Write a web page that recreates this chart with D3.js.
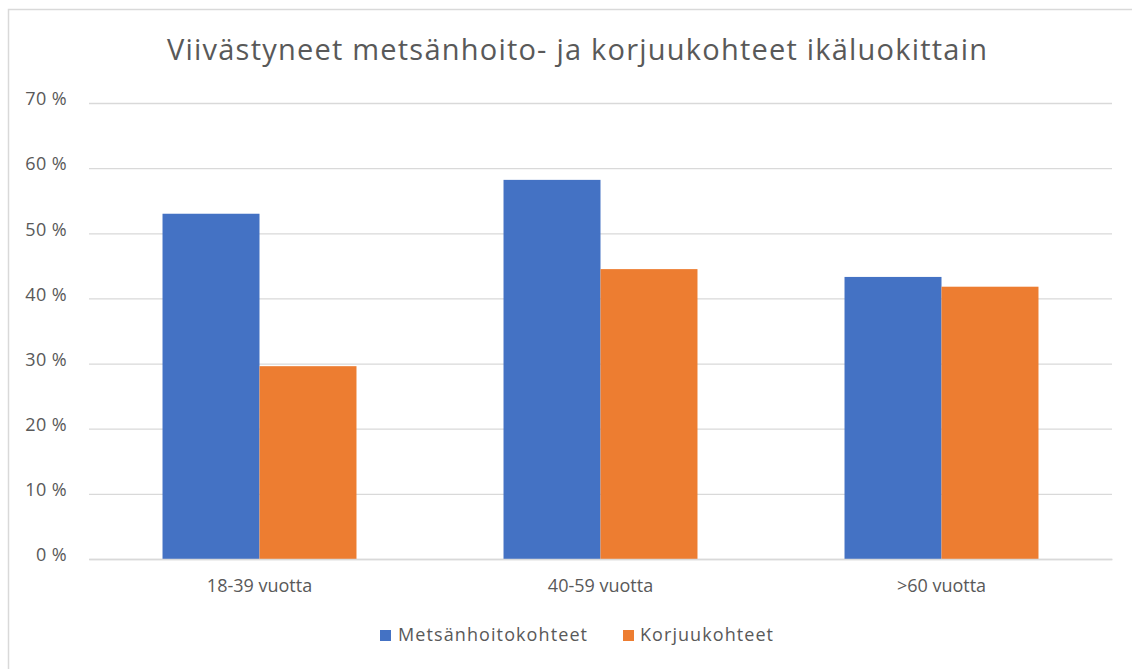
<!DOCTYPE html>
<html><head><meta charset="utf-8">
<script src="https://cdn.jsdelivr.net/npm/d3@7"></script>
<style>body{margin:0;background:#fff;} svg{display:block;} text{font-family:"Open Sans","Noto Sans",sans-serif;fill:#595959;}</style>
</head><body>
<svg id="c" width="1132" height="669"></svg>
<script>
const title = "Viivästyneet metsänhoito- ja korjuukohteet ikäluokittain";
const categories = ["18-39 vuotta", "40-59 vuotta", ">60 vuotta"];
const seriesNames = ["Metsänhoitokohteet", "Korjuukohteet"];
const metsanhoito = [53.0, 58.2, 43.3];
const korjuu = [29.6, 44.5, 41.8];
const yTicks = [0, 10, 20, 30, 40, 50, 60, 70];
const colors = ["#4472C4", "#ED7D31"];

const svg = d3.select("#c");
const W = 1132, H = 669;
const m = {left: 89, right: 1112, top: 103, bottom: 559};

svg.append("rect").attr("x", 0).attr("y", 0).attr("width", W).attr("height", H).attr("fill", "#fff");
// border (left + top)
svg.append("path").attr("d", `M8.5,${H} V9.5 H${W}`).attr("fill", "none").attr("stroke", "#d9d9d9").attr("stroke-width", 1.5);

svg.append("text").attr("x", 167).attr("y", 60)
  .attr("textLength", 820).attr("lengthAdjust", "spacing")
  .style("font-size", "29px").text(title);

const y = d3.scaleLinear().domain([0, 70]).range([m.bottom, m.top]);
const x0 = d3.scaleBand().domain(categories).range([m.left, m.right]).padding(0);
const x1 = d3.scaleBand().domain(seriesNames).range([0, x0.bandwidth()]).paddingInner(0).paddingOuter(0.758);

const yAxis = d3.axisLeft(y).tickValues(yTicks).tickSize(-(m.right - m.left)).tickFormat(d => d + " %");
const gy = svg.append("g").attr("transform", `translate(${m.left},0)`).call(yAxis);
gy.select(".domain").remove();
gy.selectAll(".tick line").attr("stroke", "#d9d9d9").attr("stroke-width", 1.3);
gy.selectAll(".tick text").style("font-size", "18px").style("letter-spacing", "0.4px").attr("fill", "#595959")
  .attr("x", -22).attr("dy", "0.1em");

const data = categories.map((c, i) => ({cat: c, vals: [metsanhoito[i], korjuu[i]]}));
const groups = svg.append("g").selectAll("g").data(data).join("g")
  .attr("transform", d => `translate(${x0(d.cat)},0)`);
groups.selectAll("rect").data(d => d.vals.map((v, j) => ({name: seriesNames[j], v, j}))).join("rect")
  .attr("x", d => x1(d.name)).attr("width", x1.bandwidth())
  .attr("y", d => y(d.v)).attr("height", d => y(0) - y(d.v))
  .attr("fill", d => colors[d.j]);

const xAxis = d3.axisBottom(x0).tickSize(0).tickPadding(20);
const gx = svg.append("g").attr("transform", `translate(0,${m.bottom})`).call(xAxis);
gx.select(".domain").attr("stroke", "#d9d9d9").attr("stroke-width", 1.3);
gx.selectAll(".tick text").style("font-size", "18px").attr("fill", "#595959");

// legend
const legX = [380, 623];
const legW = [189, 133];
const leg = svg.append("g").selectAll("g").data(seriesNames).join("g")
  .attr("transform", (d, i) => `translate(${legX[i]},641)`);
leg.append("rect").attr("x", 0).attr("y", -11).attr("width", 11).attr("height", 11).attr("fill", (d, i) => colors[i]);
leg.append("text").attr("x", (d, i) => i === 0 ? 18 : 17).attr("y", 0)
  .attr("textLength", (d, i) => legW[i]).attr("lengthAdjust", "spacing")
  .style("font-size", "18px").text(d => d);
</script>
</body></html>
